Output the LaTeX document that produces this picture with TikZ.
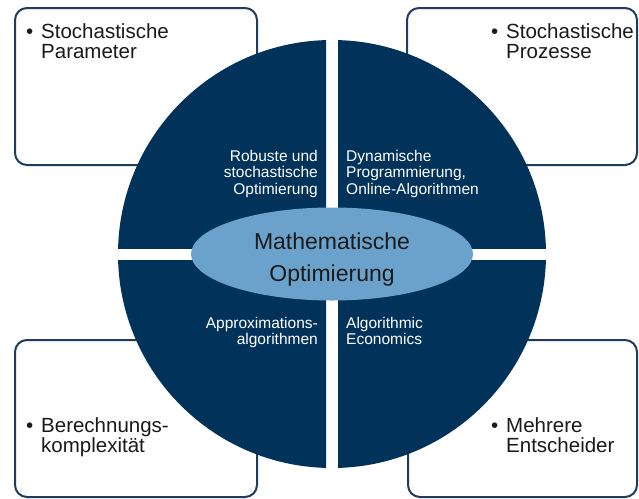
\documentclass[tikz,border=0pt]{standalone}
\usepackage{fontspec}
\setmainfont{Liberation Sans}
\usetikzlibrary{shapes.geometric,calc,positioning}
\definecolor{navy}{HTML}{00325A}
\definecolor{skyblue}{HTML}{6BA2CB}
\definecolor{framecol}{HTML}{1E3D5C}
\definecolor{inkcol}{HTML}{1A1A1A}
\tikzset{
  infobox/.style={draw=framecol, line width=2pt, rounded corners=12pt, fill=white,
    minimum width=242pt, minimum height=157pt, inner sep=0pt},
  boxtext/.style={anchor=north west, align=left, inner sep=0pt, text=inkcol,
    font=\fontsize{20.5}{20}\selectfont},
  sectortext/.style={inner sep=0pt, text=white, font=\fontsize{15.5}{16.5}\selectfont},
}
\newcommand{\bull}{\makebox[15pt][l]{\textbullet}}
\begin{document}
\begin{tikzpicture}[x=1pt, y=-1pt, line join=round]
	\useasboundingbox (0,0) rectangle (639,498);
	\coordinate (C) at (332,254);
	% Kaesten
	\node[infobox] (parbox) at (136,86.5) {};
	\node[infobox, minimum width=230pt] (probox) at (522,86.5) {};
	\node[infobox] (kompbox) at (136,418.5) {};
	\node[infobox, minimum width=229pt] (entbox) at (522.5,418.5) {};
	\node[boxtext] (par) at ([xshift=12pt, yshift=-16pt]parbox.north west) {\bull Stochastische\\\hspace*{15pt}Parameter};
	\node[boxtext] (pro) at ([xshift=85pt, yshift=-16pt]probox.north west) {\bull Stochastische\\\hspace*{15pt}Prozesse};
	\node[boxtext] (komp) at ([xshift=12pt, yshift=-78pt]kompbox.north west) {\bull Berechnungs-\\\hspace*{15pt}komplexit\"at};
	\node[boxtext] (ent) at ([xshift=84pt, yshift=-78pt]entbox.north west) {\bull Mehrere\\\hspace*{15pt}Entscheider};
	% Kreis
	\foreach \sx/\sy in {1/1,1/-1,-1/1,-1/-1}{
		\begin{scope}
			\clip ($(C)+(\sx*6,\sy*6)$) rectangle ++(\sx*230,\sy*230);
			\fill[navy] (C) circle[radius=214pt];
		\end{scope}
	}
	\node[ellipse, fill=skyblue, minimum width=282pt, minimum height=93pt, inner sep=0pt] (opt) at (C) {};
	\node[align=center, inner sep=0pt, text=inkcol, font=\fontsize{23}{32}\selectfont] (opttext) at ([yshift=-6pt]opt.center) {Mathematische\\Optimierung};
	\node[sectortext, anchor=north east, align=right] (robust) at (318,150) {Robuste und\\stochastische\\Optimierung};
	\node[sectortext, anchor=north west, align=left] (dyn) at (346,150) {Dynamische\\Programmierung,\\Online-Algorithmen};
	\node[sectortext, anchor=north east, align=right] (approx) at (318,317) {Approximations-\\algorithmen};
	\node[sectortext, anchor=north west, align=left] (algo) at (346,317) {Algorithmic\\Economics};
\end{tikzpicture}
\end{document}
